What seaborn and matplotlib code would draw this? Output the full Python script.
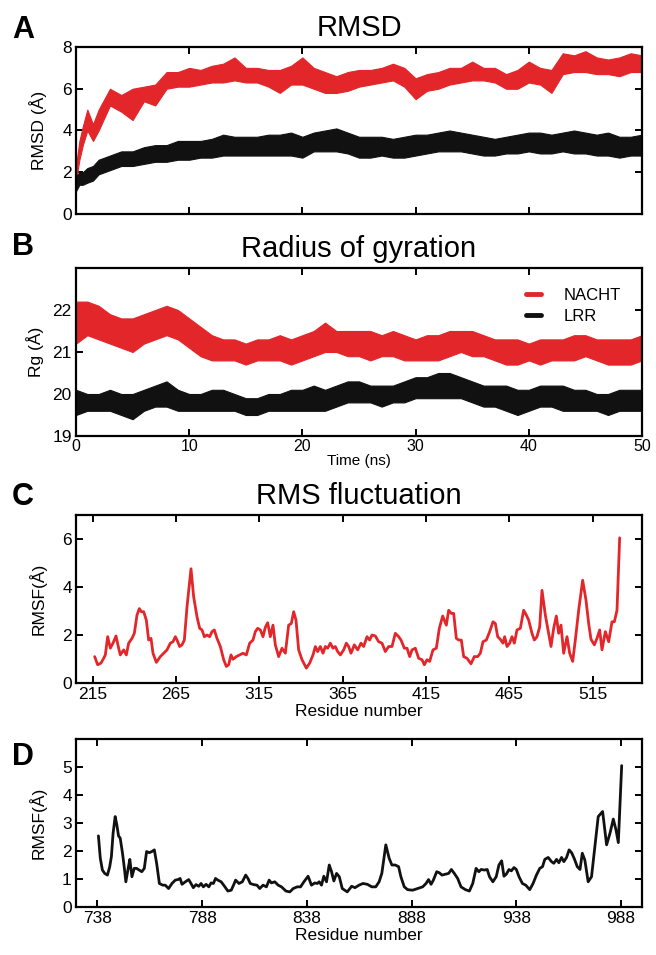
import numpy as np
import pandas as pd
import matplotlib
matplotlib.use("Agg")
import matplotlib.pyplot as plt
from matplotlib.lines import Line2D
import seaborn as sns

# ---------------- data ----------------
# Panel A: RMSD envelope (upper / lower) of the dense MD traces
rmsd_time = [0, 0.3, 0.6, 1, 1.5, 2] + list(range(3, 51))
nacht_rmsd_hi = [2.3, 3.5, 4.2, 5.0, 4.3, 5.0, 6.0, 5.7, 6.0, 6.1, 6.2, 6.8, 6.8, 7.0, 6.9, 7.1, 7.2, 7.5,
                 7.0, 7.0, 6.9, 6.9, 7.1, 7.5, 7.0, 6.8, 6.6, 6.8, 6.9, 6.9, 7.0, 7.2, 7.0, 6.5, 6.7, 6.8,
                 7.0, 7.0, 7.3, 7.0, 7.0, 6.7, 6.9, 7.3, 7.0, 6.9, 7.7, 7.6, 7.8, 7.5, 7.4, 7.5, 7.7, 7.6]
nacht_rmsd_lo = [1.6, 2.6, 3.3, 4.0, 3.5, 4.0, 5.2, 4.9, 4.5, 5.4, 5.2, 6.0, 6.1, 6.1, 6.2, 6.3, 6.3, 6.4,
                 6.3, 6.3, 6.1, 5.8, 6.2, 6.2, 6.0, 5.8, 5.8, 5.9, 6.1, 6.2, 6.3, 6.4, 6.1, 5.5, 5.9, 6.0,
                 6.2, 6.3, 6.4, 6.4, 6.3, 6.0, 6.0, 6.3, 6.2, 5.8, 6.7, 6.8, 6.8, 6.7, 6.7, 6.6, 6.8, 6.8]
lrr_rmsd_hi = [1.8, 2.0, 2.0, 2.2, 2.3, 2.6, 2.8, 3.0, 3.0, 3.2, 3.3, 3.3, 3.5, 3.5, 3.5, 3.6, 3.8, 3.7,
               3.7, 3.7, 3.8, 3.8, 3.9, 3.7, 3.9, 4.0, 4.1, 3.9, 3.7, 3.7, 3.7, 3.6, 3.7, 3.8, 3.8, 3.9,
               4.0, 3.9, 3.8, 3.7, 3.6, 3.7, 3.8, 3.9, 3.9, 3.8, 3.9, 4.0, 3.9, 3.8, 3.9, 3.7, 3.7, 3.8]
lrr_rmsd_lo = [1.1, 1.4, 1.4, 1.5, 1.6, 1.9, 2.1, 2.3, 2.3, 2.4, 2.5, 2.5, 2.6, 2.6, 2.7, 2.7, 2.8, 2.8,
               2.8, 2.8, 2.8, 2.8, 2.8, 2.7, 3.0, 3.0, 3.0, 2.9, 2.7, 2.7, 2.8, 2.7, 2.7, 2.8, 2.9, 3.0,
               3.0, 3.0, 2.9, 2.8, 2.8, 2.9, 2.9, 3.0, 2.9, 2.9, 3.0, 2.9, 2.9, 2.8, 2.8, 2.7, 2.8, 2.8]

# Panel B: radius of gyration envelope
rg_time = list(range(0, 51))
nacht_rg_hi = [22.2, 22.2, 22.1, 21.9, 21.8, 21.8, 21.9, 22.0, 22.1, 22.0, 21.8, 21.6, 21.4, 21.3, 21.3,
               21.2, 21.3, 21.3, 21.4, 21.3, 21.4, 21.5, 21.7, 21.5, 21.5, 21.5, 21.5, 21.4, 21.5, 21.4,
               21.3, 21.4, 21.4, 21.5, 21.5, 21.5, 21.4, 21.3, 21.3, 21.3, 21.2, 21.3, 21.3, 21.3, 21.4,
               21.4, 21.3, 21.3, 21.3, 21.3, 21.4]
nacht_rg_lo = [21.2, 21.4, 21.3, 21.2, 21.1, 21.0, 21.2, 21.3, 21.4, 21.3, 21.1, 20.9, 20.8, 20.8, 20.8,
               20.7, 20.8, 20.8, 20.8, 20.7, 20.8, 20.9, 21.0, 21.0, 20.9, 20.9, 20.8, 20.9, 20.9, 20.8,
               20.8, 20.8, 20.8, 20.9, 21.0, 20.9, 20.9, 20.8, 20.7, 20.7, 20.8, 20.7, 20.8, 20.8, 20.8,
               20.9, 20.8, 20.7, 20.7, 20.7, 20.8]
lrr_rg_hi = [20.1, 20.0, 20.0, 20.1, 20.0, 20.0, 20.1, 20.2, 20.3, 20.1, 20.0, 20.0, 20.1, 20.1, 20.0,
             19.9, 19.9, 20.0, 20.0, 20.1, 20.1, 20.2, 20.1, 20.2, 20.3, 20.3, 20.2, 20.2, 20.2, 20.3,
             20.4, 20.4, 20.5, 20.5, 20.4, 20.3, 20.2, 20.2, 20.2, 20.1, 20.1, 20.2, 20.2, 20.2, 20.1,
             20.1, 20.0, 20.0, 20.1, 20.1, 20.1]
lrr_rg_lo = [19.5, 19.6, 19.6, 19.6, 19.5, 19.4, 19.6, 19.7, 19.7, 19.6, 19.6, 19.6, 19.6, 19.6, 19.6,
             19.5, 19.5, 19.6, 19.6, 19.6, 19.6, 19.6, 19.6, 19.7, 19.8, 19.8, 19.8, 19.7, 19.8, 19.8,
             19.9, 19.9, 19.9, 19.9, 19.9, 19.8, 19.7, 19.7, 19.6, 19.5, 19.6, 19.7, 19.7, 19.6, 19.6,
             19.6, 19.6, 19.5, 19.6, 19.6, 19.6]

# Panel C: RMSF of NACHT domain
nacht_res = [216.2, 218, 220, 221.6, 222.6, 224, 225.6, 227.2, 229, 230.6, 231.6, 233.6, 235.2, 236.6,
             238.6, 240, 241.6, 243, 244.2, 245.6, 247.2, 248.6, 250, 251.2, 253.2, 255.6, 257.6, 259.6,
             261.6, 263.2, 264.6, 265.6, 267.2, 268.6, 270, 271.6, 274, 275.6, 277.6, 279.2, 280.6, 282,
             283.6, 285.2, 286.6, 288, 289.6, 291.6, 293.6, 295.2, 296.6, 298, 299.2, 301.2, 303.2, 305.2,
             307.2, 309.2, 311.2, 312.6, 314, 315.6, 317.2, 318.6, 320, 321.6, 323.2, 324.6, 326.6, 328.6,
             330.6, 332.6, 334.2, 335.6, 337, 338.6, 340.6, 343.2, 345.2, 347.2, 348.6, 350, 351.6, 353.2,
             354.6, 356, 357.6, 359.2, 360.6, 362, 363.6, 365.6, 367.2, 368.6, 370, 372, 374, 376, 377.6,
             379.6, 381.2, 382.6, 384.6, 386.6, 388.6, 390.6, 392.6, 394.6, 396.6, 398.6, 400, 402, 403.6,
             405.2, 406.6, 408.6, 410.6, 412.6, 414, 415.6, 417.2, 419.2, 421.2, 423, 425, 427.2, 428.6,
             430.2, 431.6, 433.2, 434.6, 436.2, 437.6, 439.6, 442, 444, 446, 447.6, 449.2, 451.2, 453.2,
             455.2, 456.6, 458, 459.6, 461.2, 462.2, 463.6, 465.2, 466.6, 468, 469.6, 471.6, 473.6, 475.2,
             476.6, 478.6, 480, 481.6, 483.2, 484.6, 486.6, 488.6, 490, 491.6, 493.2, 494.6, 496, 497.6,
             499.6, 501.2, 503, 504.6, 506.6, 509, 511, 512.6, 514, 516, 517.6, 519.2, 520.6, 522.6, 524.6,
             526.6, 528, 529.6, 531.2]
nacht_rmsf = [1.10, 0.76, 0.83, 1.03, 1.17, 1.93, 1.45, 1.66, 1.96, 1.45, 1.17, 1.38, 1.17, 1.66,
              1.86, 2.07, 2.83, 3.10, 2.97, 2.97, 2.62, 1.79, 1.86, 1.24, 0.86, 1.10, 1.24, 1.38,
              1.66, 1.72, 1.93, 1.79, 1.52, 1.59, 1.79, 3.17, 4.76, 3.59, 2.76, 2.28, 2.21, 1.93,
              2.00, 1.93, 2.14, 2.21, 1.86, 1.52, 0.97, 0.69, 0.76, 1.17, 0.99, 1.10, 1.17, 1.24,
              1.17, 1.66, 1.79, 2.14, 2.28, 2.21, 1.93, 2.32, 2.51, 1.93, 2.41, 1.59, 1.10, 1.45,
              1.24, 2.41, 2.48, 2.97, 2.62, 1.38, 0.97, 0.62, 0.83, 1.17, 1.52, 1.31, 1.52, 1.24,
              1.52, 1.45, 1.66, 1.45, 1.52, 1.31, 1.17, 1.38, 1.66, 1.52, 1.24, 1.59, 1.38, 1.66, 1.52,
              1.93, 1.79, 2.00, 1.96, 1.72, 1.66, 1.31, 1.52, 1.52, 2.07, 1.93, 1.79, 1.45, 1.45,
              1.10, 1.38, 1.45, 1.03, 0.97, 0.76, 0.97, 0.90, 1.38, 1.45, 2.28, 2.79, 2.41, 3.03,
              2.90, 2.90, 1.86, 1.79, 1.79, 1.10, 1.03, 0.80, 1.10, 1.10, 1.24, 1.72, 1.79, 2.14,
              2.55, 2.48, 1.93, 1.82, 1.66, 1.93, 1.52, 1.66, 1.93, 1.66, 2.21, 2.28, 3.03, 2.83,
              2.62, 2.07, 1.79, 1.93, 2.34, 3.86, 2.83, 2.07, 1.52, 2.28, 2.79, 2.07, 2.41, 1.24,
              1.93, 1.24, 0.90, 1.79, 3.03, 4.28, 3.45, 2.48, 1.82, 1.59, 1.86, 2.21, 1.38, 2.14, 1.72,
              2.55, 2.55, 3.03, 6.05]

# Panel D: RMSF of LRR domain
lrr_res = [738.5, 739.4, 740.4, 741.5, 742.8, 743.9, 744.7, 745.5, 746.5, 747.3, 748.1, 748.9, 750,
           750.8, 751.6, 752.7, 753.5, 754.5, 755.6, 756.7, 758, 759.2, 760.4, 761.5, 762.8, 764,
           765.2, 766.3, 767.6, 769.2, 770.4, 772, 773.6, 775.2, 776.5, 777.5, 778.4, 780, 781.6,
           782.7, 783.8, 785.1, 786.4, 787.5, 788.6, 789.9, 791.2, 792.3, 793.4, 794.4, 795.5, 797.1,
           798.7, 800.3, 801.9, 803, 804, 805.6, 807.2, 808.8, 809.9, 811, 812.6, 814.2, 815.5, 817.1,
           818.7, 820, 821.1, 822.7, 824.3, 825.9, 828, 829.9, 831.5, 833.4, 835, 836.6, 838.6, 840.2,
           841.8, 843, 843.9, 845, 846.1, 847.4, 848.7, 849.8, 850.9, 852.2, 853.5, 854.9, 857.3,
           859.4, 861, 862.9, 864.8, 866.9, 869, 870.9, 872.5, 873.8, 875.7, 877.3, 878.6, 880.2,
           881.8, 882.9, 884.5, 886.1, 888.5, 890.9, 893.3, 894.9, 896.1, 897.3, 898.4, 900, 901.3,
           902.5, 904.1, 905.7, 907, 908.4, 910, 911.6, 913.7, 915.6, 917.2, 918.8, 920.1, 921.2,
           922.8, 924.1, 925.2, 926.8, 928.4, 929.7, 931, 932.1, 933.2, 934.5, 935.6, 936.9, 938,
           939.3, 940.9, 942.5, 944.4, 946, 947.6, 949.2, 950.5, 951.6, 953.2, 954.8, 955.9, 957.2,
           958.3, 959.6, 960.7, 962, 963.2, 964.4, 965.6, 967.1, 968.4, 969.5, 970.7, 972.3, 973.9,
           975.5, 977.1, 979.2, 981.1, 982.7, 984.3, 985.6, 986.7, 988.3]
lrr_rmsf = [2.54, 1.74, 1.32, 1.20, 1.14, 1.44, 1.80, 2.63, 3.23, 2.93, 2.54, 2.46, 1.92, 1.44, 0.90,
            1.38, 1.70, 1.08, 1.38, 1.38, 1.32, 1.26, 1.38, 1.98, 1.94, 1.98, 2.04, 1.56, 0.84, 0.78,
            0.78, 0.66, 0.84, 0.96, 0.98, 1.02, 0.81, 0.90, 0.98, 0.84, 0.69, 0.80, 0.74, 0.84, 0.72,
            0.81, 0.72, 0.86, 0.84, 1.02, 0.96, 0.90, 0.74, 0.57, 0.60, 0.78, 0.96, 0.84, 0.90, 1.14,
            1.02, 0.84, 0.80, 0.78, 0.66, 0.78, 0.72, 0.96, 0.86, 0.90, 0.78, 0.72, 0.57, 0.54, 0.66,
            0.72, 0.72, 0.90, 1.10, 0.78, 0.86, 0.84, 0.90, 0.78, 1.10, 0.90, 1.50, 1.26, 0.93, 1.20,
            1.08, 0.66, 0.54, 0.74, 0.69, 0.78, 0.84, 0.81, 0.72, 0.72, 0.90, 1.20, 2.22, 1.74, 1.50,
            1.50, 1.44, 1.08, 0.72, 0.62, 0.60, 0.66, 0.72, 0.84, 0.98, 0.81, 0.96, 1.26, 1.22, 1.14,
            1.17, 1.20, 1.34, 1.20, 1.02, 0.72, 0.62, 0.57, 0.84, 1.38, 1.26, 1.34, 1.32, 1.34, 1.08,
            0.90, 1.08, 1.50, 1.65, 1.10, 1.17, 1.34, 1.29, 1.41, 1.34, 1.08, 0.84, 0.78, 0.62, 0.84,
            1.14, 1.38, 1.44, 1.70, 1.77, 1.62, 1.56, 1.70, 1.58, 1.77, 1.62, 1.77, 2.04, 1.94, 1.74,
            1.44, 1.34, 1.92, 1.68, 0.90, 1.08, 2.16, 3.23, 3.41, 2.22, 2.63, 3.14, 2.75, 2.30, 5.05]

series_names = ["NACHT", "LRR"]
titles = ["RMSD", "Radius of gyration", "RMS fluctuation"]
panel_letters = ["A", "B", "C", "D"]
rmsd_yticks = [0, 2, 4, 6, 8]
rg_yticks = [19, 20, 21, 22]
time_ticks = [0, 10, 20, 30, 40, 50]
nacht_xticks = [215, 265, 315, 365, 415, 465, 515]
nacht_yticks = [0, 2, 4, 6]
lrr_xticks = [738, 788, 838, 888, 938, 988]
lrr_yticks = [0, 1, 2, 3, 4, 5]

# ---------------- style ----------------
sns.set_theme(style="ticks")
plt.rcParams["font.family"] = ["Liberation Sans", "DejaVu Sans"]
plt.rcParams["text.color"] = "black"
plt.rcParams["axes.labelcolor"] = "black"
plt.rcParams["xtick.color"] = "black"
plt.rcParams["ytick.color"] = "black"
RED = "#e3262a"
BLACK = "#111111"

W, H = 656, 955
fig = plt.figure(figsize=(W / 100, H / 100), dpi=100)
fig.patch.set_facecolor("white")


def px_axes(top, bottom, left=76, right=642):
    return fig.add_axes([left / W, 1 - bottom / H, (right - left) / W, (bottom - top) / H])


def style_axes(ax):
    for s in ax.spines.values():
        s.set_visible(True)
        s.set_linewidth(1.6)
        s.set_color("black")
    ax.tick_params(direction="in", length=5, width=1.4, top=True, right=True,
                   labelsize=12.5, colors="black", pad=3)
    ax.set_facecolor("white")


def band_frame(t, hi, lo, name):
    return pd.DataFrame({"t": list(t) + list(t), "v": list(hi) + list(lo), "series": name})


# Panel A
axA = px_axes(47, 214)
dfA = pd.concat([band_frame(rmsd_time, nacht_rmsd_hi, nacht_rmsd_lo, "NACHT"),
                 band_frame(rmsd_time, lrr_rmsd_hi, lrr_rmsd_lo, "LRR")])
sns.lineplot(data=dfA, x="t", y="v", hue="series", palette={"NACHT": RED, "LRR": BLACK},
             estimator="mean", errorbar=("pi", 100), err_kws={"alpha": 1.0, "linewidth": 0.8},
             linewidth=0.8, ax=axA, legend=False)
axA.set_xlim(0, 50)
axA.set_ylim(0, 8)
axA.set_xticks(time_ticks)
axA.set_xticklabels([])
axA.set_yticks(rmsd_yticks)
axA.set_xlabel("")
axA.set_ylabel("RMSD (Å)", fontsize=12.5, labelpad=11)
axA.set_title(titles[0], fontsize=21, pad=8)
style_axes(axA)

# Panel B
axB = px_axes(268, 436)
dfB = pd.concat([band_frame(rg_time, nacht_rg_hi, nacht_rg_lo, "NACHT"),
                 band_frame(rg_time, lrr_rg_hi, lrr_rg_lo, "LRR")])
sns.lineplot(data=dfB, x="t", y="v", hue="series", palette={"NACHT": RED, "LRR": BLACK},
             estimator="mean", errorbar=("pi", 100), err_kws={"alpha": 1.0, "linewidth": 0.8},
             linewidth=0.8, ax=axB, legend=False)
axB.set_xlim(0, 50)
axB.set_ylim(19, 23)
axB.set_xticks(time_ticks)
axB.set_yticks(rg_yticks)
axB.set_xlabel("Time (ns)", fontsize=11, labelpad=0)
axB.set_ylabel("Rg (Å)", fontsize=12.5, labelpad=6)
axB.set_title(titles[1], fontsize=21, pad=8)
style_axes(axB)
axB.tick_params(axis="x", labelsize=11.5, pad=2)
handles = [Line2D([], [], color=RED, lw=3.5), Line2D([], [], color=BLACK, lw=3.5)]
axB.legend(handles, series_names, loc="upper right", frameon=False, fontsize=12,
           handlelength=0.9, handletextpad=1.4, labelspacing=0.35,
           bbox_to_anchor=(0.99, 0.97))

# Panel C
axC = px_axes(515, 683)
dfC = pd.DataFrame({"res": nacht_res, "rmsf": nacht_rmsf})
sns.lineplot(data=dfC, x="res", y="rmsf", color=RED, linewidth=2.0, ax=axC)
axC.set_xlim(205, 544.6)
axC.set_ylim(0, 7)
axC.set_xticks(nacht_xticks)
axC.set_yticks(nacht_yticks)
axC.set_xlabel("Residue number", fontsize=12.5, labelpad=1)
axC.set_ylabel("RMSF(Å)", fontsize=12.5, labelpad=11)
axC.set_title(titles[2], fontsize=21, pad=8)
style_axes(axC)

# Panel D
axD = px_axes(739, 907)
dfD = pd.DataFrame({"res": lrr_res, "rmsf": lrr_rmsf})
sns.lineplot(data=dfD, x="res", y="rmsf", color=BLACK, linewidth=2.0, ax=axD)
axD.set_xlim(727.8, 998)
axD.set_ylim(0, 6)
axD.set_xticks(lrr_xticks)
axD.set_yticks(lrr_yticks)
axD.set_xlabel("Residue number", fontsize=12.5, labelpad=1)
axD.set_ylabel("RMSF(Å)", fontsize=12.5, labelpad=11)
style_axes(axD)

# Panel letters
for letter, ycen in zip(panel_letters, [30, 247, 497, 757]):
    fig.text(12 / W, 1 - ycen / H, letter, fontsize=22, fontweight="bold",
             ha="left", va="center", color="black")

fig.savefig("out.png", dpi=100, facecolor="white")
